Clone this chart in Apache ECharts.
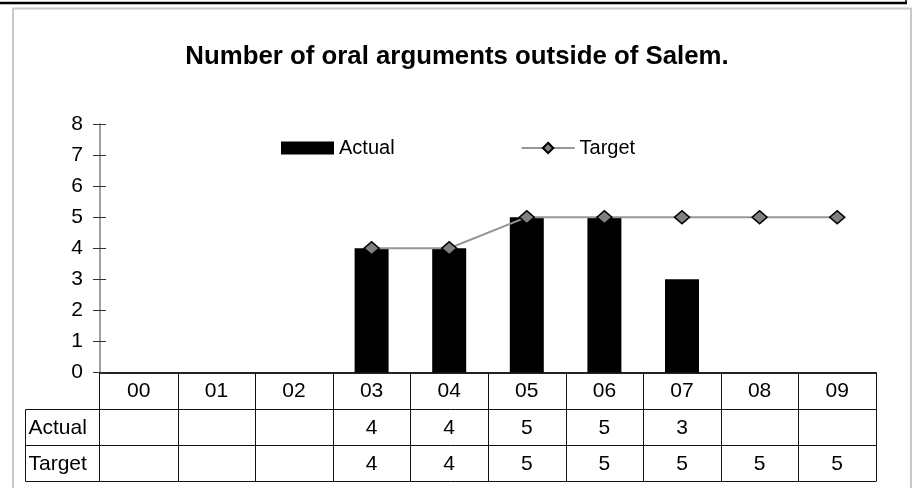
<!DOCTYPE html>
<html>
<head>
<meta charset="utf-8">
<script src="https://cdn.jsdelivr.net/npm/echarts@6/dist/echarts.min.js"></script>
<style>
html,body{margin:0;padding:0;background:#fff;}
#c{width:914px;height:488px;}
</style>
</head>
<body>
<div id="c"></div>
<script>
var categories = ['00','01','02','03','04','05','06','07','08','09'];
var actualValues = [null,null,null,4,4,5,5,3,null,null];
var targetValues = [null,null,null,4,4,5,5,5,5,5];
var yTicks = [0,1,2,3,4,5,6,7,8];
var titleText = 'Number of oral arguments outside of Salem.';

var FONT = "'Liberation Sans', Arial, sans-serif";
var chart = echarts.init(document.getElementById('c'), null, {renderer:'canvas'});

var option = {
  animation:false,
  backgroundColor:'#fff',
  title:{
    text:titleText, left:'center', top:39,
    textStyle:{fontFamily:FONT, fontWeight:'bold', fontSize:25.8, color:'#000'}
  },
  legend:{
    left:281, top:138, itemWidth:53, itemHeight:13, itemGap:126, padding:0,
    textStyle:{fontFamily:FONT, fontSize:20, color:'#000'},
    data:[
      {name:'Actual', icon:'rect'},
      {name:'Target'}
    ]
  },
  grid:{left:100, right:38, top:124, bottom:115.5, containLabel:false},
  xAxis:{
    type:'category', data:categories,
    axisLine:{show:true, lineStyle:{color:'#222', width:2}},
    axisTick:{show:false},
    axisLabel:{show:false},
    splitLine:{show:false}
  },
  yAxis:[{
    type:'value', min:0, max:8, interval:1,
    axisLine:{show:true, lineStyle:{color:'#808080', width:1.5}},
    axisTick:{show:true, length:7, lineStyle:{color:'#333', width:1}},
    axisLabel:{fontFamily:FONT, fontSize:21, color:'#000', margin:17,
      formatter:function(v){return yTicks.indexOf(v)>=0 ? String(v) : '';}},
    splitLine:{show:false}
  },{
    type:'value', min:0, max:8, interval:1, position:'left',
    axisLine:{show:false},
    axisTick:{show:true, inside:true, length:6, lineStyle:{color:'#333', width:1}},
    axisLabel:{show:false},
    splitLine:{show:false}
  }],
  series:[
    {name:'Actual', type:'bar', data:actualValues, barWidth:34,
     itemStyle:{color:'#000'}},
    {name:'Target', type:'line', data:targetValues,
     symbol:'diamond', symbolSize:[15,13], showSymbol:true,
     lineStyle:{color:'#969696', width:2},
     itemStyle:{color:'#808080', borderColor:'#000', borderWidth:1.5},
     z:5}
  ]
};
chart.setOption(option);

// data table built from the axes
var g = [];
var c0 = chart.convertToPixel({xAxisIndex:0}, categories[0]);
var c1 = chart.convertToPixel({xAxisIndex:0}, categories[1]);
var step = c1 - c0;
var y0 = chart.convertToPixel({yAxisIndex:0}, 0);
var left = c0 - step/2;
var right = left + step*categories.length;
var rowH = 36.3;
var tableLeft = 25.5;
var r1 = y0 + rowH, r2 = r1 + rowH, r3 = r2 + rowH;
var lineStyle = {stroke:'#111', lineWidth:1};
function hl(x1,x2,y){g.push({type:'line', shape:{x1:x1,y1:y,x2:x2,y2:y}, style:lineStyle, silent:true});}
function vl(x,y1,y2){g.push({type:'line', shape:{x1:x,y1:y1,x2:x,y2:y2}, style:lineStyle, silent:true});}
hl(tableLeft, right, Math.round(r1)+0.5);
hl(tableLeft, right, Math.round(r2)+0.5);
hl(tableLeft, right, Math.round(r3)+0.5);
vl(tableLeft, Math.round(r1)+0.5, Math.round(r3)+0.5);
vl(Math.round(left)-0.5, y0, Math.round(r3)+0.5);
for (var i=1;i<=categories.length;i++){
  var x = Math.round(left + step*i)+0.5;
  vl(x, y0, Math.round(r3)+0.5);
}
function txt(x,y,s,align){
  g.push({type:'text', x:x, y:y, silent:true,
    style:{text:s, font:'21px '+FONT, fill:'#000', textAlign:align||'center', textVerticalAlign:'middle'}});
}
for (var i=0;i<categories.length;i++){
  var cx = chart.convertToPixel({xAxisIndex:0}, categories[i]);
  txt(cx, (y0+r1)/2+1, categories[i]);
  if (actualValues[i]!=null) txt(cx, (r1+r2)/2+1, String(actualValues[i]));
  if (targetValues[i]!=null) txt(cx, (r2+r3)/2+1, String(targetValues[i]));
}
txt(tableLeft+3, (r1+r2)/2+1, 'Actual', 'left');
txt(tableLeft+3, (r2+r3)/2+1, 'Target', 'left');
// frame
g.push({type:'rect', shape:{x:13, y:8.5, width:898, height:490}, style:{fill:'none', stroke:'#c8c8c8', lineWidth:2}, silent:true, z:-1});
g.push({type:'line', shape:{x1:0, y1:3, x2:907, y2:3}, style:{stroke:'#000', lineWidth:2.5}, silent:true});
g.push({type:'line', shape:{x1:906, y1:0, x2:906, y2:4}, style:{stroke:'#000', lineWidth:1.5}, silent:true});
chart.setOption({graphic:g});
</script>
</body>
</html>
